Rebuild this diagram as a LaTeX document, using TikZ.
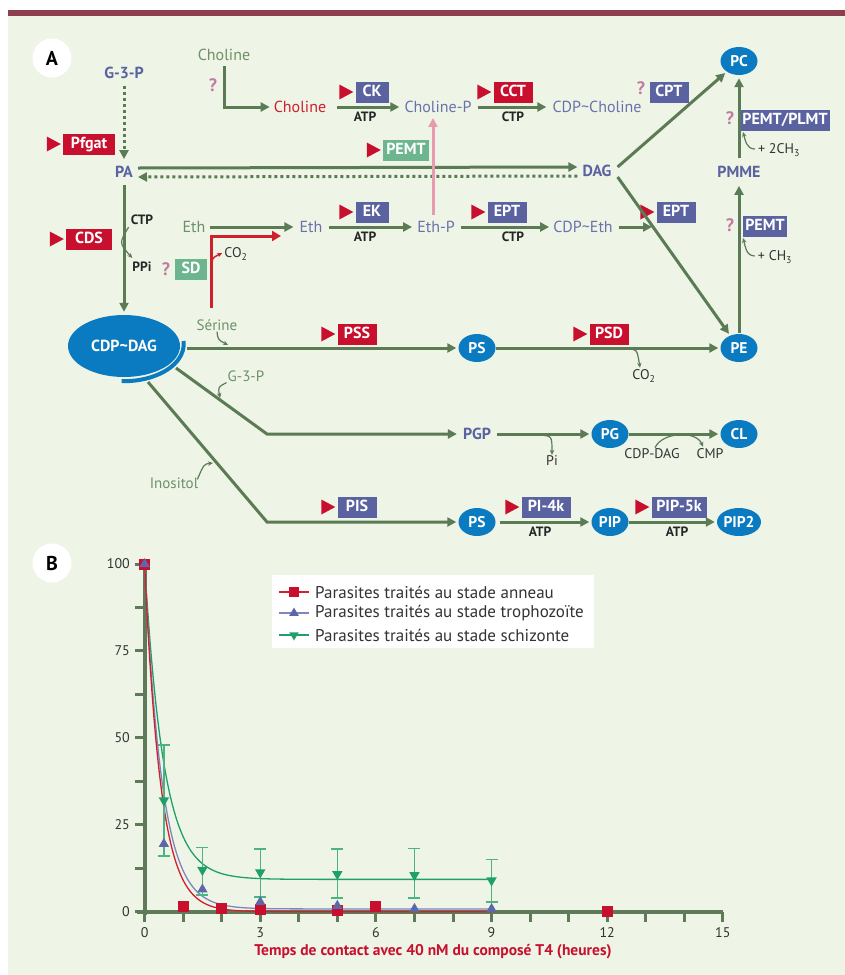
\documentclass[tikz,border=0pt]{standalone}
\usepackage{fontspec}
\setmainfont{PT Sans}
\usetikzlibrary{arrows.meta,calc,shapes.geometric}
\definecolor{bg}{HTML}{EEF4E6}
\definecolor{bar}{HTML}{8E3F4F}
\definecolor{lg}{HTML}{5B7B55}
\definecolor{tg}{HTML}{6E9068}
\definecolor{mb}{HTML}{5A62A0}
\definecolor{mbl}{HTML}{6A72AC}
\definecolor{eb}{HTML}{0A7BC0}
\definecolor{er}{HTML}{C8102E}
\definecolor{rl}{HTML}{D0202E}
\definecolor{eg}{HTML}{6DB58F}
\definecolor{qp}{HTML}{C27BA0}
\definecolor{pk}{HTML}{E89AAE}
\definecolor{axc}{HTML}{5E7A58}
\definecolor{gc}{HTML}{1FA06A}
\definecolor{gce}{HTML}{4DB383}
\definecolor{bc}{HTML}{5E68A8}
\definecolor{bcl}{HTML}{7D86C0}
\newcommand\mytri[1]{\fill[er] ($(#1.west)+(-2,0)$) -- ($(#1.west)+(-16,-7.5)$) -- ($(#1.west)+(-16,7.5)$) -- cycle;}
\newcommand\cx[1]{(144.6+38.55*(#1))}
\newcommand\cy[1]{(911.7-3.477*(#1))}
\begin{document}
\begin{tikzpicture}[x=1pt,y=-1pt,
  met/.style={font=\fontsize{16}{18}\selectfont, text=mbl, inner sep=2pt},
  metb/.style={font=\fontsize{16}{18}\selectfont\bfseries, text=mb, inner sep=2pt},
  metg/.style={font=\fontsize{16}{18}\selectfont, text=tg, inner sep=2pt},
  lab/.style={font=\fontsize{15}{17}\selectfont, text=tg, inner sep=1pt},
  ell/.style={ellipse, fill=eb, text=white, font=\fontsize{15.5}{17}\selectfont\bfseries, minimum width=37pt, minimum height=28pt, inner sep=0pt},
  enz/.style={fill=#1, text=white, font=\fontsize{16}{18}\selectfont\bfseries, minimum height=21pt, inner xsep=2pt, inner ysep=0pt, text height=11.5pt, text depth=2.5pt},
  smb/.style={font=\fontsize{13.5}{15}\selectfont\bfseries, text=black!85, inner sep=1pt},
  smr/.style={font=\fontsize{14}{16}\selectfont, text=black!80, inner sep=1pt},
  qm/.style={font=\fontsize{18}{20}\selectfont\bfseries, text=qp, inner sep=0pt},
  flow/.style={draw=lg, line width=3pt, -{Triangle[length=9pt,width=9pt]}},
  dotarrow/.style={draw=lg, line width=3pt, dash pattern=on 3pt off 3pt, -{Triangle[length=9pt,width=9pt]}},
  curv/.style={draw=lg, line width=1.2pt, -{Stealth[length=5pt,width=4.5pt]}},
  circlab/.style={circle, fill=white, minimum size=39pt, inner sep=0pt, font=\fontsize{20}{22}\selectfont\bfseries},
  ax/.style={draw=axc, line width=4pt},
  axt/.style={draw=axc, line width=3pt},
  tick/.style={font=\fontsize{14}{16}\selectfont, text=black!80, inner sep=1pt},
  sq/.style={rectangle, fill=er, minimum size=11pt, inner sep=0pt},
  tup/.style={regular polygon, regular polygon sides=3, fill=bc, minimum size=12pt, inner sep=0pt},
  tdn/.style={regular polygon, regular polygon sides=3, shape border rotate=180, fill=gc, minimum size=12pt, inner sep=0pt},
  legt/.style={font=\fontsize{17}{19}\selectfont, text=black!80, inner sep=0pt, anchor=west},
]
\useasboundingbox (0,0) rectangle (845,975);
\fill[white] (0,0) rectangle (845,975);
\fill[bg] (8,10) rectangle (845,975);
\fill[bar] (8,10) rectangle (845,16);

\node[circlab] (labA) at (52,58) {A};
\node[circlab] (labB) at (52,563) {B};

% ---------- metabolites
\node[metb] (g3p) at (124,73) {G-3-P};
\node[metb] (pa) at (124,172) {PA};
\node[metg] (chol0) at (224,55) {Choline};
\node[met, text=rl] (chol) at (300,107) {Choline};
\node[met] (cholP) at (438,107) {Choline-P};
\node[met] (cdpchol) at (597,107) {CDP\textasciitilde Choline};
\node[metb] (dag) at (597,171) {DAG};
\node[ell] (pc) at (739,61) {PC};
\node[metb] (pmme) at (739,172) {PMME};
\node[metg] (eth0) at (194,227) {Eth};
\node[met] (eth) at (311,227) {Eth};
\node[met] (ethP) at (436,227) {Eth-P};
\node[met] (cdpeth) at (583,227) {CDP\textasciitilde Eth};
\node[ell, minimum width=112pt, minimum height=62pt, font=\fontsize{16}{18}\selectfont\bfseries] (cdpdag) at (124,346) {CDP\textasciitilde DAG};
\node[ell] (ps) at (477,348) {PS};
\node[ell] (pe) at (739,348) {PE};
\node[metb] (pgp) at (477,434) {PGP};
\node[ell] (pg) at (610,434) {PG};
\node[ell] (cl) at (739,434) {CL};
\node[ell] (ps2) at (477,522) {PS};
\node[ell] (pip) at (610,522) {PIP};
\node[ell, minimum width=44pt] (pip2) at (739,522) {PIP2};

% ---------- enzymes
\node[enz=er, minimum width=52pt] (pfgat) at (89,144) {Pfgat}; \mytri{pfgat}
\node[enz=er, minimum width=46pt] (cds) at (89,239) {CDS}; \mytri{cds}
\node[enz=eg, minimum width=32pt] (sd) at (191,269) {SD};
\node[qm] (qsd) at (166,269) {?};
\node[enz=mb, minimum width=33pt] (ck) at (372,92) {CK}; \mytri{ck}
\node[enz=er, minimum width=39pt] (cct) at (513,92) {CCT}; \mytri{cct}
\node[enz=mb, minimum width=39pt] (cpt) at (669,92) {CPT};
\node[qm] (qcpt) at (641,88) {?};
\node[enz=eg, minimum width=46pt] (pemt1) at (406,150) {PEMT}; \mytri{pemt1}
\node[enz=mb, minimum width=33pt] (ek) at (372,212) {EK}; \mytri{ek}
\node[enz=mb, minimum width=39pt] (ept1) at (507,212) {EPT}; \mytri{ept1}
\node[enz=mb, minimum width=39pt] (ept2) at (676,212) {EPT}; \mytri{ept2}
\node[enz=mb, minimum width=84pt] (plmt) at (785,120) {PEMT/PLMT};
\node[qm] (qplmt) at (730,118) {?};
\node[enz=mb, minimum width=44pt] (pemt2) at (765,226) {PEMT};
\node[qm] (qpemt) at (730,225) {?};
\node[enz=er, minimum width=39pt] (pss) at (357,334) {PSS}; \mytri{pss}
\node[enz=er, minimum width=39pt] (psd) at (609,334) {PSD}; \mytri{psd}
\node[enz=mb, minimum width=39pt] (pis) at (357,507) {PIS}; \mytri{pis}
\node[enz=mb, minimum width=49pt] (pi4k) at (546,507) {PI-4k}; \mytri{pi4k}
\node[enz=mb, minimum width=55pt] (pip5k) at (679,507) {PIP-5k}; \mytri{pip5k}
\node[qm] (qchol) at (213,85) {?};

% ---------- small labels
\node[smb] (atp1) at (365,117) {ATP};
\node[smb] (ctp1) at (513,117) {CTP};
\node[smb] (atp2) at (365,237) {ATP};
\node[smb] (ctp2) at (513,237) {CTP};
\node[smb] (ctp0) at (142,220) {CTP};
\node[smb] (ppi) at (142,267) {PPi};
\node[smb] (atp3) at (540,532) {ATP};
\node[smb] (atp4) at (677,532) {ATP};
\node[smr] (co2a) at (236,254) {CO\textsubscript{2}};
\node[smr] (co2b) at (644,376) {CO\textsubscript{2}};
\node[smr] (pi) at (552,461) {Pi};
\node[smr] (cdpd2) at (652,454) {CDP-DAG};
\node[smr] (cmp) at (710,454) {CMP};
\node[smr] (ch2) at (779,150) {+ 2CH\textsubscript{3}};
\node[smr] (ch1) at (775,257) {+ CH\textsubscript{3}};
\node[lab] (serine) at (217,325) {Sérine};
\node[lab] (g3pl) at (246,376) {G-3-P};
\node[lab] (inos) at (174,483) {Inositol};

% ---------- coordinates
\coordinate (j1) at (652,227);
\coordinate (redS) at (211,308);
\coordinate (redT) at (281,236);
\coordinate (redC) at (212,266);
\coordinate (arcE) at (187,348);
\coordinate (sert) at (228,345);
\coordinate (g3s) at (176,368);
\coordinate (g3k) at (267,434);
\coordinate (g3t) at (220,398);
\coordinate (ins) at (148,382);
\coordinate (ink) at (267,522);
\coordinate (inst) at (213,463);
\coordinate (psdc) at (627,349);
\coordinate (pgpc) at (540,435);
\coordinate (ch2t) at (743,132);
\coordinate (ch1t) at (743,238);

% ---------- connectors
\draw[dotarrow, shorten <=5pt, shorten >=5pt] (g3p) -- (pa);
\draw[flow] ($(pa.east)+(3,-4)$) -- ($(dag.west)+(-3,-4)$);
\draw[dotarrow] ($(dag.west)+(-3,5)$) -- ($(pa.east)+(3,5)$);
\draw[flow, shorten >=2pt] ($(chol0.south)+(0,3)$) |- (chol.west);
\draw[flow, shorten <=9pt, shorten >=3pt] (chol) -- (cholP);
\draw[flow, shorten <=4pt, shorten >=4pt] (cholP) -- (cdpchol);
\draw[flow, shorten <=2pt, shorten >=4pt] (eth0) -- (eth);
\draw[flow, shorten <=4pt, shorten >=3pt] (eth) -- (ethP);
\draw[flow, shorten <=4pt, shorten >=2pt] (ethP) -- (cdpeth);
\draw[flow, shorten <=4pt] (cdpeth) -- (j1);
\draw[draw=pk, line width=3pt, -{Triangle[length=9pt,width=9pt]}] ($(ethP.north)+(-3,-4)$) -- ($(cholP.south)+(-5,3)$);
\draw[flow, shorten >=2pt] ($(dag.east)+(4,-4)$) -- (pc);
\draw[flow, shorten >=2pt] ($(dag.east)+(4,6)$) -- (pe);
\draw[flow, shorten <=6pt, shorten >=3pt] (pmme) -- (pc);
\draw[flow, shorten <=1pt, shorten >=6pt] (pe) -- (pmme);
\draw[curv] ($(ch2.west)+(-2,-1)$) .. controls +(-9,0) and +(2,7) .. (ch2t);
\draw[curv] ($(ch1.west)+(-2,-1)$) .. controls +(-9,0) and +(2,7) .. (ch1t);
\draw[flow, shorten <=5pt, shorten >=3pt] (pa) -- (cdpdag);
\draw[curv] ($(ctp0.south west)+(-1,1)$) .. controls (119,243) .. ($(ppi.north west)+(1,-3)$);
\draw[draw=rl, line width=3pt, -{Triangle[length=9pt,width=10pt]}] (redS) |- (redT);
\draw[draw=rl, line width=1.4pt, -{Stealth[length=5pt,width=4.5pt]}] (redC) .. controls (212,258) .. ($(co2a.west)+(-1,-1)$);
\draw[eb, line width=4pt] ($(cdpdag.center)+(59.5,-5)$) arc[start angle=5, end angle=-92, x radius=60pt, y radius=37pt];
\draw[flow, shorten >=2pt] (arcE) -- (ps);
\draw[curv] (serine.south) .. controls +(1,8) .. (sert);
\draw[flow, shorten >=2pt] (ps) -- (pe);
\draw[curv] (psdc) .. controls (637,349) .. ($(co2b.north)+(-4,-1)$);
\draw[flow, shorten >=4pt] (g3s) -- (g3k) -- (pgp);
\draw[curv] (g3pl.south west) .. controls (218,387) .. (g3t);
\draw[flow, shorten >=2pt] (ins) -- (ink) -- (ps2);
\draw[curv] ($(inos.north east)+(-2,3)$) .. controls (204,464) .. (inst);
\draw[flow, shorten <=4pt, shorten >=2pt] (pgp) -- (pg);
\draw[curv] (pgpc) .. controls (552,436) .. (pi.north);
\draw[flow, shorten >=2pt] (pg) -- (cl);
\draw[curv] ($(cdpd2.north)+(3,0)$) .. controls (662,432) and (696,430) .. ($(cmp.north)+(-7,-1)$);
\draw[flow, shorten <=4pt, shorten >=2pt] (ps2) -- (pip);
\draw[flow, shorten >=2pt] (pip) -- (pip2);

% ---------- chart B
\draw[ax] (137,911.7) -- (723,911.7);
\draw[ax] (144.6,560) -- (144.6,915);
\foreach \i in {0,...,15} \draw[axt] ({\cx{\i}},911.7) -- ++(0,10);
\foreach \v in {0,12.5,...,100} \draw[axt] (144.6,{\cy{\v}}) -- ++(-10,0);
\foreach \v in {0,25,50,75,100} \node[tick, anchor=east] (yl\v) at (131,{\cy{\v}}) {\v};
\foreach \i in {0,3,6,9,12,15} \node[tick] (xl\i) at ({\cx{\i}},933) {\i};
\node[font=\fontsize{15.5}{17}\selectfont\bfseries, text=er] (xtitle) at (433,952) {Temps de contact avec 40 nM du composé T4 (heures)};

\draw[gc, line width=1.3pt] plot[domain=0:9, samples=120, smooth] ({\cx{\x}},{\cy{9.3+90.7*exp(-2.0*min(\x,5))}});
\draw[bcl, line width=1.3pt] plot[domain=0:9, samples=120, smooth] ({\cx{\x}},{\cy{0.8+99.2*exp(-2.2*min(\x,5))}});
\draw[rl, line width=1.3pt] plot[domain=0:9, samples=120, smooth] ({\cx{\x}},{\cy{100*exp(-2.4*min(\x,5))}});

\foreach \t/\lo/\hi in {0.5/16/48,1.5/4.8/18.5,3/4.3/18,5/4/18,7/4/18.2,9/2.8/15}{
  \draw[gce, line width=1.5pt] ({\cx{\t}},{\cy{\lo}}) -- ({\cx{\t}},{\cy{\hi}});
  \draw[gce, line width=1.5pt] ({\cx{\t}-6},{\cy{\lo}}) -- ({\cx{\t}+6},{\cy{\lo}});
  \draw[gce, line width=1.5pt] ({\cx{\t}-6},{\cy{\hi}}) -- ({\cx{\t}+6},{\cy{\hi}});
}
\foreach \t/\v [count=\k] in {0/100,0.5/32,1.5/12,3/11.3,5/10.8,7/10.5,9/9}
  \node[tdn] (g\k) at ({\cx{\t}},{\cy{\v}}) {};
\foreach \t/\v [count=\k] in {0/100,1/1.4,2/1,3/0.6,5/0.4,6/1.4,12/0}
  \node[sq] (r\k) at ({\cx{\t}},{\cy{\v}}) {};
\foreach \t/\v [count=\k] in {0/100,0.5/19.5,1.5/6.4,3/2.8,5/1.7,7/0.8,9/0.8}
  \node[tup] (b\k) at ({\cx{\t}},{\cy{\v}}) {};

% legend
\node[fill=white, minimum width=322pt, minimum height=73pt, anchor=north west, inner sep=0pt] (leg) at (272,575) {};
\coordinate (l1a) at (279,592); \coordinate (l1b) at (309,592);
\coordinate (l2a) at (279,613); \coordinate (l2b) at (309,613);
\coordinate (l3a) at (279,635); \coordinate (l3b) at (309,635);
\draw[rl, line width=1.3pt] (l1a) -- (l1b);
\draw[bcl, line width=1.3pt] (l2a) -- (l2b);
\draw[gc, line width=1.3pt] (l3a) -- (l3b);
\node[sq, minimum size=10pt] (lm1) at ($(l1a)!0.5!(l1b)$) {};
\node[tup, minimum size=11pt] (lm2) at ($(l2a)!0.5!(l2b)$) {};
\node[tdn, minimum size=11pt] (lm3) at ($(l3a)!0.5!(l3b)$) {};
\node[legt] (lt1) at (315,592) {Parasites traités au stade anneau};
\node[legt] (lt2) at (315,613) {Parasites traités au stade trophozoïte};
\node[legt] (lt3) at (315,635) {Parasites traités au stade schizonte};
\end{tikzpicture}
\end{document}
